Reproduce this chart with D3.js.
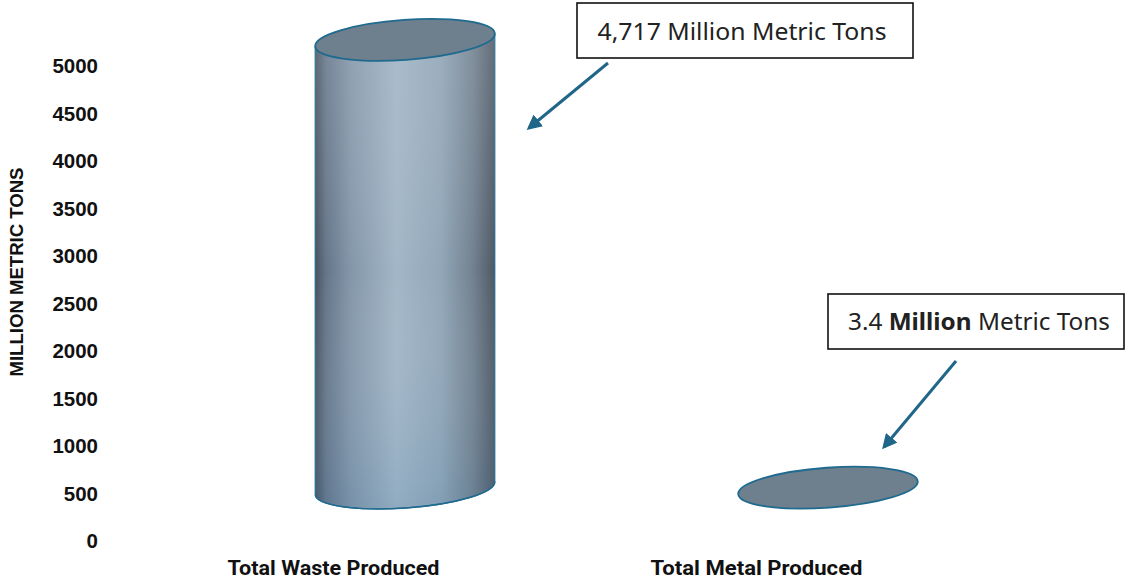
<!DOCTYPE html>
<html>
<head>
<meta charset="utf-8">
<script src="https://cdn.jsdelivr.net/npm/d3@7/dist/d3.min.js"></script>
<style>
  html, body { margin: 0; padding: 0; background: #fff; }
  svg { display: block; }
</style>
</head>
<body>
<svg id="chart" width="1126" height="583"></svg>
<script>
// ---- data ----
const categories = ["Total Waste Produced", "Total Metal Produced"];
const values = [4717, 3.4];
const yTicks = [0, 500, 1000, 1500, 2000, 2500, 3000, 3500, 4000, 4500, 5000];
const yTitle = "MILLION METRIC TONS";
const annotationTexts = [
  [{t: "4,717 Million Metric Tons", b: false}],
  [{t: "3.4 ", b: false}, {t: "Million", b: true}, {t: " Metric Tons", b: false}]
];

const W = 1126, H = 583;
const svg = d3.select("#chart");

const y = d3.scaleLinear().domain([0, 5000]).range([541, 66]);
const x = d3.scalePoint().domain(categories).range([121.5, 967.5]).padding(0.5);

// 3D depth offset of the floor
const depthDx = 72, depthDy = -53;
const rx = 90, ry = 20, tilt = -4.1;
const th = tilt * Math.PI / 180;
const ex = rx * Math.cos(th), ey = rx * Math.sin(th);

const defs = svg.append("defs");
const side = defs.append("linearGradient").attr("id", "sideGrad")
  .attr("x1", "0").attr("x2", "1").attr("y1", "0").attr("y2", "0");
[[0, "#47525e"], [0.06, "#66768a"], [0.2, "#8497aa"], [0.45, "#a2b6c7"], [0.7, "#91a6b8"], [0.88, "#72818f"], [1, "#4d5864"]]
  .forEach(([o, c]) => side.append("stop").attr("offset", o).attr("stop-color", c));
const vert = defs.append("linearGradient").attr("id", "vertGrad")
  .attr("x1", "0").attr("x2", "0").attr("y1", "0").attr("y2", "1");
vert.append("stop").attr("offset", 0).attr("stop-color", "#c8d2da").attr("stop-opacity", 0.18);
vert.append("stop").attr("offset", 0.5).attr("stop-color", "#ffffff").attr("stop-opacity", 0);
vert.append("stop").attr("offset", 1).attr("stop-color", "#3f7aa6").attr("stop-opacity", 0.18);
const mk = defs.append("marker").attr("id", "arrow")
  .attr("viewBox", "0 0 10 10").attr("refX", 8).attr("refY", 5)
  .attr("markerWidth", 5).attr("markerHeight", 5).attr("orient", "auto")
  .attr("markerUnits", "strokeWidth");
mk.append("path").attr("d", "M0,0 L10,5 L0,10 z").attr("fill", "#1f6688");

// ---- y axis ----
const yAxis = d3.axisLeft(y).tickValues(yTicks).tickSize(0).tickPadding(0).tickFormat(d3.format("d"));
const gy = svg.append("g").attr("transform", "translate(98,0)").call(yAxis);
gy.select(".domain").remove();
gy.selectAll("text")
  .attr("font-family", "Liberation Sans, Arial, sans-serif")
  .attr("font-weight", "bold").attr("font-size", 20.5).attr("fill", "#111");

svg.append("text")
  .attr("transform", "translate(23,272) rotate(-90)")
  .attr("text-anchor", "middle")
  .attr("font-family", "Liberation Sans, Arial, sans-serif")
  .attr("font-weight", "bold").attr("font-size", 19).attr("fill", "#111")
  .attr("textLength", 209).attr("lengthAdjust", "spacingAndGlyphs")
  .text(yTitle);

// ---- x axis labels ----
const xAxis = d3.axisBottom(x).tickSize(0).tickPadding(0);
const gx = svg.append("g").attr("transform", "translate(0,561)").call(xAxis);
gx.select(".domain").remove();
gx.selectAll("text")
  .attr("font-family", "Roboto, sans-serif")
  .attr("font-weight", "bold").attr("font-size", 19.5).attr("fill", "#111")
  .attr("textLength", 212).attr("lengthAdjust", "spacingAndGlyphs");

// ---- cylinders ----
categories.forEach((c, i) => {
  const cx = x(c) + depthDx;
  const yb = y(0) + depthDy;
  const yt = y(values[i]) + depthDy;
  const g = svg.append("g");
  const h = yb - yt;
  if (h > 2) {
    const p = `M${cx - ex},${yt - ey} L${cx - ex},${yb - ey} ` +
      `A${rx},${ry} ${tilt} 0 0 ${cx + ex},${yb + ey} ` +
      `L${cx + ex},${yt + ey} Z`;
    g.append("path").attr("d", p).attr("fill", "url(#sideGrad)")
      .attr("stroke", "#1f6a8f").attr("stroke-width", 1.2);
    g.append("path").attr("d", p).attr("fill", "url(#vertGrad)");
    g.append("path").attr("d", `M${cx - ex},${yb - ey} A${rx},${ry} ${tilt} 0 0 ${cx + ex},${yb + ey}`)
      .attr("fill", "none").attr("stroke", "#1f6a8f").attr("stroke-width", 1.5);
  }
  g.append("ellipse")
    .attr("cx", cx).attr("cy", yt).attr("rx", rx).attr("ry", ry)
    .attr("transform", `rotate(${tilt},${cx},${yt})`)
    .attr("fill", "#6e7f8d").attr("stroke", "#1f6a8f").attr("stroke-width", 1.8);
});

// ---- annotations ----
const boxes = [
  {x: 577, y: 3, w: 336, h: 55, tx: 742, ty: 40, fs: 24, tl: 289, a: [608, 63, 529, 128]},
  {x: 828, y: 294, w: 296, h: 55, tx: 979, ty: 330, fs: 23, tl: 262, a: [956, 361, 884, 447]}
];
boxes.forEach((b, i) => {
  svg.append("rect").attr("x", b.x).attr("y", b.y).attr("width", b.w).attr("height", b.h)
    .attr("fill", "#fff").attr("stroke", "#111").attr("stroke-width", 1.6);
  const t = svg.append("text").attr("x", b.tx).attr("y", b.ty)
    .attr("text-anchor", "middle")
    .attr("font-family", "Noto Sans, sans-serif")
    .attr("font-size", b.fs).attr("fill", "#222")
    .attr("textLength", b.tl).attr("lengthAdjust", "spacingAndGlyphs");
  annotationTexts[i].forEach(s => {
    t.append("tspan").attr("font-weight", s.b ? "bold" : "normal").text(s.t);
  });
  svg.append("line").attr("x1", b.a[0]).attr("y1", b.a[1]).attr("x2", b.a[2]).attr("y2", b.a[3])
    .attr("stroke", "#1f6688").attr("stroke-width", 3).attr("marker-end", "url(#arrow)");
});
</script>
</body>
</html>
